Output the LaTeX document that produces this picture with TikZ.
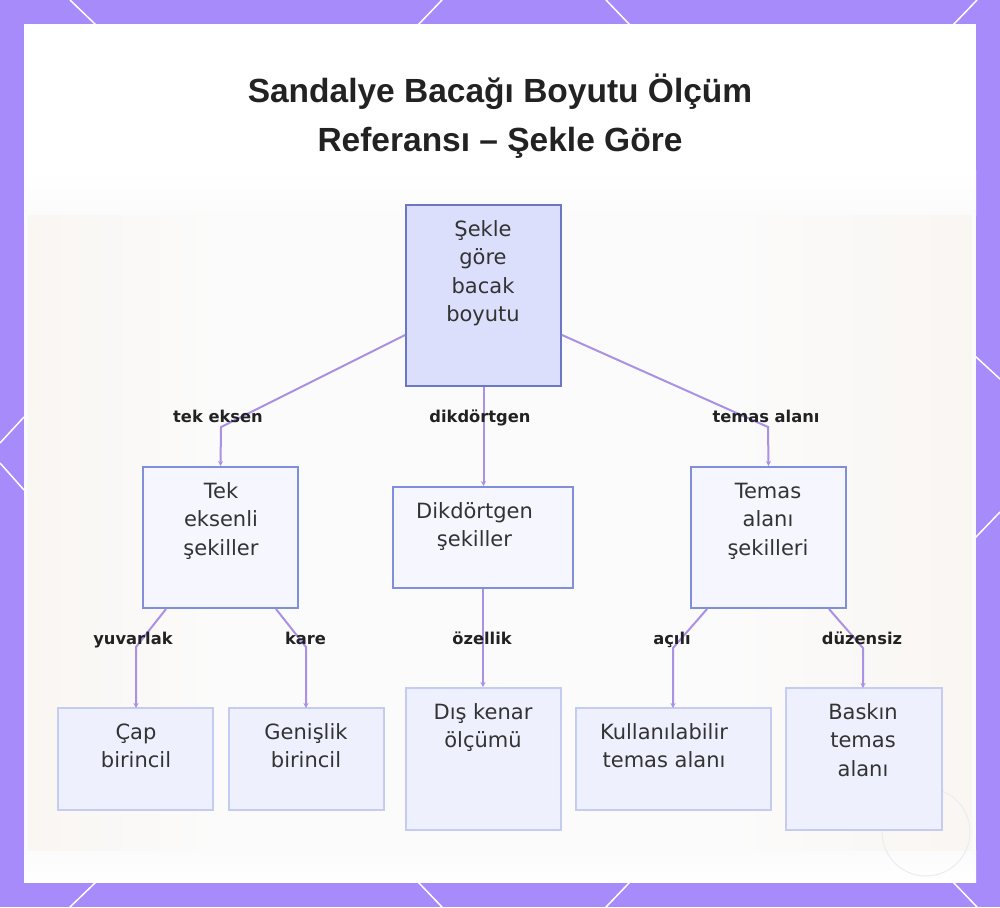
\documentclass[tikz,border=0pt]{standalone}
\usepackage{fontspec}
\setmainfont{DejaVu Sans}
\newfontfamily\titlefont{Liberation Sans}
\usetikzlibrary{arrows.meta}
\definecolor{bgpurple}{RGB}{167,139,250}
\definecolor{edgec}{RGB}{171,145,230}
\definecolor{rootfill}{RGB}{220,223,251}
\definecolor{rootdraw}{RGB}{108,118,196}
\definecolor{midfill}{RGB}{245,246,254}
\definecolor{middraw}{RGB}{128,143,218}
\definecolor{leaffill}{RGB}{238,240,253}
\definecolor{leafdraw}{RGB}{196,204,242}
\definecolor{txtc}{RGB}{51,51,51}
\definecolor{lblc}{RGB}{34,34,34}
\definecolor{warmA}{RGB}{251,251,251}
\definecolor{warmB}{RGB}{250,246,242}
\definecolor{markc}{RGB}{236,236,240}
\begin{document}
\begin{tikzpicture}[x=1pt,y=-1pt,
  rootbox/.style={draw=rootdraw,fill=rootfill,line width=2pt,inner sep=0pt},
  midbox/.style={draw=middraw,fill=midfill,line width=2pt,inner sep=0pt},
  leafbox/.style={draw=leafdraw,fill=leaffill,line width=2pt,inner sep=0pt},
  boxtext/.style={font=\fontsize{21}{28.5}\selectfont,text=txtc,align=center,inner sep=0pt,anchor=north},
  elabel/.style={font=\bfseries\fontsize{16.3}{20}\selectfont,text=lblc,inner sep=0pt,anchor=base},
  edge/.style={draw=edgec,line width=2pt,-{Stealth[length=5pt,width=5pt]}},
  border line/.style={draw=white,line width=1.5pt}
]
\useasboundingbox (0,0) rectangle (1000,907);
% purple frame with white pattern lines
\fill[bgpurple] (0,0) rectangle (1000,907);
\draw[border line] (70,0) -- (96,25);
\draw[border line] (442,0) -- (418,25);
\draw[border line] (606,0) -- (630,25);
\draw[border line] (977,0) -- (953,25);
\draw[border line] (96,882) -- (70,907);
\draw[border line] (418,882) -- (442,907);
\draw[border line] (630,882) -- (606,907);
\draw[border line] (953,882) -- (977,907);
\draw[border line] (24,417) -- (0,443);
\draw[border line] (0,463) -- (24,490);
\draw[border line] (975,356) -- (1000,379);
\draw[border line] (975,538) -- (1000,512);
% panel with faint blurred background tint
\fill[white] (24,24) rectangle (976,882);
\shade[top color=white,bottom color=warmA] (24,170) rectangle (976,215);
\fill[warmA] (24,215) rectangle (976,870);
\shade[top color=warmA,bottom color=white] (24,850) rectangle (976,882);
\shade[left color=warmB,right color=warmA] (28,215) rectangle (215,850);
\shade[left color=warmA,right color=warmB] (730,215) rectangle (972,850);
\draw[markc,line width=1pt] (926,832) circle (44);

% title
\node[font=\titlefont\bfseries\fontsize{33.5}{49}\selectfont,text=lblc,align=center,inner sep=0pt,anchor=north] (title) at (500,74)
  {\rule{0pt}{28pt}Sandalye Bacağı Boyutu Ölçüm\\Referansı – Şekle Göre};

% boxes
\node[rootbox,minimum width=155pt,minimum height=181pt] (root) at (483.5,295.5) {};
\node[midbox,minimum width=155pt,minimum height=141pt] (tek) at (220.5,537.5) {};
\node[midbox,minimum width=180pt,minimum height=101pt] (dik) at (483,537.5) {};
\node[midbox,minimum width=155pt,minimum height=141pt] (tem) at (768.5,537.5) {};
\node[leafbox,minimum width=155pt,minimum height=102pt] (cap) at (135.5,759) {};
\node[leafbox,minimum width=155pt,minimum height=102pt] (gen) at (306.5,759) {};
\node[leafbox,minimum width=155pt,minimum height=142pt] (dis) at (483.5,759) {};
\node[leafbox,minimum width=195pt,minimum height=102pt] (kul) at (673.5,759) {};
\node[leafbox,minimum width=156pt,minimum height=142pt] (bas) at (864,759) {};

% box texts
\node[boxtext] (roott) at (483,216) {\rule{0pt}{20pt}Şekle\\göre\\bacak\\boyutu};
\node[boxtext] (tekt) at (221,478) {\rule{0pt}{20pt}Tek\\eksenli\\şekiller};
\node[boxtext] (dikt) at (474.5,498) {\rule{0pt}{20pt}Dikdörtgen\\şekiller};
\node[boxtext] (temt) at (768,478) {\rule{0pt}{20pt}Temas\\alanı\\şekilleri};
\node[boxtext] (capt) at (136,719) {\rule{0pt}{20pt}Çap\\birincil};
\node[boxtext] (gent) at (306,719) {\rule{0pt}{20pt}Genişlik\\birincil};
\node[boxtext] (dist) at (483,699) {\rule{0pt}{20pt}Dış kenar\\ölçümü};
\node[boxtext] (kult) at (664,719) {\rule{0pt}{20pt}Kullanılabilir\\temas alanı};
\node[boxtext] (bast) at (863,699) {\rule{0pt}{20pt}Baskın\\temas\\alanı};

% connectors
\draw[edge] ([yshift=-39.5pt]root.west) -- (221,427) -- (tek.north);
\draw[edge] (root.south) -- (root.south |- dik.north);
\draw[edge] ([yshift=-39.5pt]root.east) -- (768,427) -- (tem.north);
\draw[edge] ([xshift=-54.5pt]tek.south) -- (136,647) -- (136,708);
\draw[edge] ([xshift=55.5pt]tek.south) -- (306,647) -- (306,708);
\draw[edge] (dik.south) -- (dik.south |- dis.north);
\draw[edge] ([xshift=-61.5pt]tem.south) -- (673,648) -- (673,708);
\draw[edge] ([xshift=60.5pt]tem.south) -- (863,648) -- (863,688);

% edge labels
\node[elabel] (l1) at (218,422.5) {tek eksen};
\node[elabel] (l2) at (480,422.5) {dikdörtgen};
\node[elabel] (l3) at (766,422.5) {temas alanı};
\node[elabel] (l4) at (133,644.5) {yuvarlak};
\node[elabel] (l5) at (305.5,644.5) {kare};
\node[elabel] (l6) at (482,644.5) {özellik};
\node[elabel] (l7) at (672,644.5) {açılı};
\node[elabel] (l8) at (862,644.5) {düzensiz};
\end{tikzpicture}
\end{document}
